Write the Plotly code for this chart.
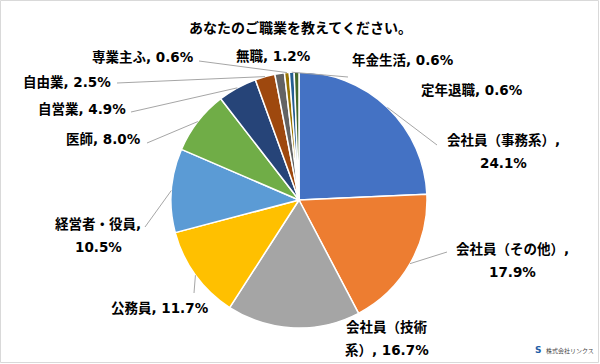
import math
import plotly.graph_objects as go

# ---- data ----
categories = ["会社員（事務系）", "会社員（その他）", "会社員（技術系）", "公務員", "経営者・役員",
              "医師", "自営業", "自由業", "無職", "専業主ふ", "年金生活", "定年退職"]
values = [24.1, 17.9, 16.7, 11.7, 10.5, 8.0, 4.9, 2.5, 1.2, 0.6, 0.6, 0.6]
colors = ["#4472C4", "#ED7D31", "#A5A5A5", "#FFC000", "#5B9BD5", "#70AD47",
          "#264478", "#9E480E", "#636363", "#997300", "#255E91", "#43682B"]
title_text = "あなたのご職業を教えてください。"

# ---- layout constants (pixels) ----
W, H = 600, 364
CX, CY, R = 299, 200, 128
FONT = "DejaVu Sans, Noto Sans CJK JP, sans-serif"

# label centre (px), leader-line start (px) or None, line break
label_layout = {
    "会社員（事務系）": ((503, 151.5), (437, 145), "comma"),
    "会社員（その他）": ((512, 260), (447, 252), "comma"),
    "会社員（技術系）": ((387, 338), None, 6),
    "公務員": ((160, 308), (194, 293), None),
    "経営者・役員": ((98, 235), (145, 227), "comma"),
    "医師": ((103, 139), (147, 143), None),
    "自営業": ((82, 109), (131, 112), None),
    "自由業": ((67, 82), (117, 83), None),
    "無職": ((273, 56), None, None),
    "専業主ふ": ((143, 57), (199, 61), None),
    "年金生活": ((403, 60), (348, 77), None),
    "定年退職": ((472, 90), None, None),
}


def px(x):
    return x / W


def py(y):
    return 1 - y / H


fig = go.Figure(go.Pie(
    labels=categories,
    values=values,
    sort=False,
    direction="clockwise",
    rotation=0,
    marker=dict(colors=colors, line=dict(color="white", width=1.5)),
    textinfo="none",
    hoverinfo="label+percent",
    domain=dict(x=[px(CX - R), px(CX + R)], y=[py(CY + R), py(CY - R)]),
    showlegend=False,
))

annotations = []
shapes = []
total = sum(values)
cum = 0.0
for cat, v in zip(categories, values):
    mid = (cum + v / 2) / total * 2 * math.pi
    cum += v
    (lx, ly), start, brk = label_layout[cat]
    full = f"{cat}, {v:.1f}%"
    if brk == "comma":
        lines = [f"{cat},", f"{v:.1f}%"]
    elif isinstance(brk, int):
        lines = [full[:brk], full[brk:]]
    else:
        lines = [full]
    n = len(lines)
    for i, t in enumerate(lines):
        yy = ly + (i - (n - 1) / 2) * 23
        annotations.append(dict(
            x=px(lx), y=py(yy), xref="paper", yref="paper", text=f"<b>{t}</b>",
            showarrow=False, xanchor="center", yanchor="middle",
            font=dict(family=FONT, size=13.5, color="#000000"),
        ))
    if start is not None:
        ex = CX + R * math.sin(mid)
        ey = CY - R * math.cos(mid)
        shapes.append(dict(
            type="line", xref="paper", yref="paper",
            x0=px(start[0]), y0=py(start[1]), x1=px(ex), y1=py(ey),
            line=dict(color="#A6A6A6", width=1),
        ))

# title
annotations.append(dict(
    x=0.5, y=py(27), xref="paper", yref="paper", text=f"<b>{title_text}</b>",
    showarrow=False, xanchor="center", yanchor="middle",
    font=dict(family="Noto Sans CJK JP, sans-serif", size=14, color="#000000"),
))
# watermark
annotations.append(dict(
    x=px(538), y=py(350), xref="paper", yref="paper", text="<b>S</b>",
    showarrow=False, xanchor="center", yanchor="middle",
    font=dict(family="DejaVu Sans", size=9, color="#1F5FA8"),
))
annotations.append(dict(
    x=px(544), y=py(350), xref="paper", yref="paper", text="株式会社リンクス",
    showarrow=False, xanchor="left", yanchor="middle",
    font=dict(family="Noto Sans CJK JP, sans-serif", size=6, color="#444444"),
))

# outer frame
shapes.append(dict(
    type="rect", xref="paper", yref="paper",
    x0=px(0.5), y0=py(362.5), x1=px(598.5), y1=py(0.5),
    line=dict(color="#D9D9D9", width=1), fillcolor="rgba(0,0,0,0)",
))

fig.update_layout(
    width=W, height=H,
    margin=dict(l=0, r=0, t=0, b=0),
    paper_bgcolor="white", plot_bgcolor="white",
    annotations=annotations, shapes=shapes,
)

fig.write_html(
    "out.html",
    config={"displayModeBar": False},
    post_script="document.body.style.margin='0';document.body.style.overflow='hidden';",
)
